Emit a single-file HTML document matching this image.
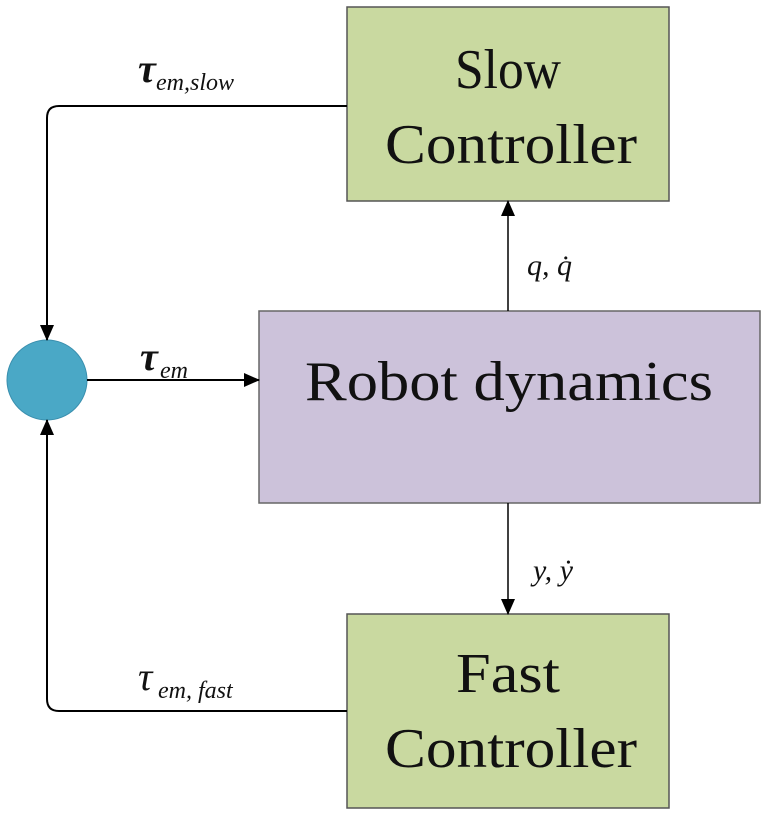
<!DOCTYPE html>
<html><head><meta charset="utf-8"><style>
html,body{margin:0;padding:0;background:#fff;}
svg{display:block;}
text{font-family:"Liberation Serif",serif;fill:#111;}
</style></head><body>
<svg width="768" height="817" viewBox="0 0 768 817" xmlns="http://www.w3.org/2000/svg">
<defs><marker id="b" markerWidth="16" markerHeight="16" refX="15" refY="8" orient="auto" markerUnits="userSpaceOnUse"><path d="M0,1 L16,8 L0,15 z" fill="#000"/></marker></defs>
<rect x="347" y="7" width="322" height="194" fill="#c9d9a0" stroke="#555" stroke-width="1.5"/>
<rect x="259" y="311" width="501" height="192" fill="#ccc2da" stroke="#666" stroke-width="1.5"/>
<rect x="347" y="614" width="322" height="194" fill="#c9d9a0" stroke="#555" stroke-width="1.5"/>
<circle cx="47" cy="380" r="40" fill="#4aa8c6" stroke="#3a8fae" stroke-width="1"/>
<path d="M347,106 H59 Q47,106 47,118 V340" fill="none" stroke="#000" stroke-width="2" marker-end="url(#b)"/>
<path d="M347,711 H59 Q47,711 47,699 V420" fill="none" stroke="#000" stroke-width="2" marker-end="url(#b)"/>
<line x1="87" y1="380" x2="259" y2="380" stroke="#000" stroke-width="2" marker-end="url(#b)"/>
<line x1="508" y1="311" x2="508" y2="201" stroke="#000" stroke-width="1.5" marker-end="url(#b)"/>
<line x1="508" y1="503" x2="508" y2="614" stroke="#000" stroke-width="1.5" marker-end="url(#b)"/>
<text x="508" y="88" font-size="56" text-anchor="middle" textLength="106" lengthAdjust="spacingAndGlyphs">Slow</text>
<text x="511" y="163" font-size="56" text-anchor="middle" textLength="252" lengthAdjust="spacingAndGlyphs">Controller</text>
<text x="509" y="400" font-size="56" text-anchor="middle" textLength="408" lengthAdjust="spacingAndGlyphs">Robot dynamics</text>
<text x="508" y="692" font-size="56" text-anchor="middle" textLength="104" lengthAdjust="spacingAndGlyphs">Fast</text>
<text x="511" y="767" font-size="56" text-anchor="middle" textLength="252" lengthAdjust="spacingAndGlyphs">Controller</text>
<text x="138" y="82" font-size="40" font-style="italic" font-weight="bold">τ</text><text x="156" y="90" font-size="24" font-style="italic">em,slow</text>
<text x="140" y="370" font-size="40" font-style="italic" font-weight="bold">τ</text><text x="160" y="378" font-size="24" font-style="italic">em</text>
<text x="138" y="690" font-size="40" font-style="italic">τ</text><text x="158" y="698" font-size="24" font-style="italic">em, fast</text>
<text x="527" y="275" font-size="30" font-style="italic">q, q̇</text>
<text x="533" y="580" font-size="30" font-style="italic">y, ẏ</text>
</svg>
</body></html>
